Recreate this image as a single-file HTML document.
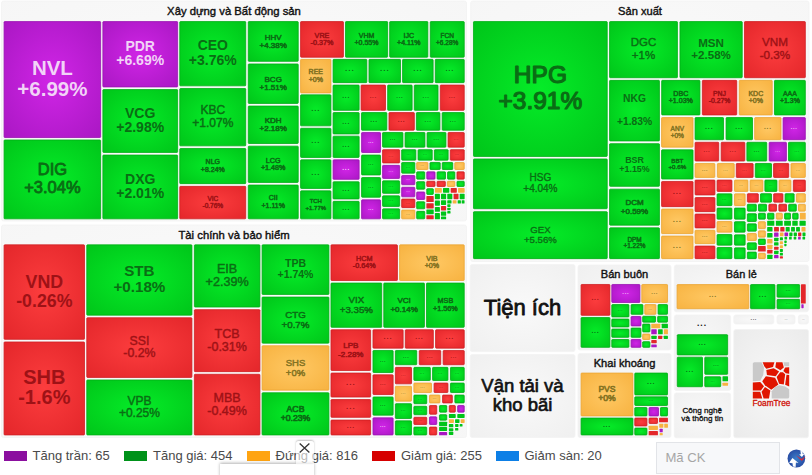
<!DOCTYPE html>
<html><head><meta charset="utf-8"><title>Treemap</title>
<style>
html,body{margin:0;padding:0;background:#fff;}
body{width:812px;height:475px;position:relative;overflow:hidden;font-family:"Liberation Sans",sans-serif;}
.lg{position:absolute;top:450.7px;height:10.5px;width:23.2px;}
.lt{position:absolute;top:447.8px;font-size:13px;line-height:16px;color:#4a4a4a;white-space:nowrap;}
.inp{position:absolute;left:655.8px;top:441.8px;width:122px;height:30px;border:1px solid #e2e4e8;background:#f7f8fa;box-sizing:content-box;}
.inp span{position:absolute;left:8.6px;top:6.8px;font-size:13.1px;color:#a6a6a6;line-height:16px;}
.pop{position:absolute;left:220.3px;top:463.6px;width:93.8px;height:14px;background:#fff;box-shadow:0 -1px 3px rgba(0,0,0,0.3);}
.cls{position:absolute;left:296px;top:441px;width:18px;height:22.6px;background:rgba(255,255,255,0.62);border-radius:3px 3px 0 0;box-shadow:0 -1px 2px rgba(0,0,0,0.25);}
</style></head><body>
<svg width="812" height="441" viewBox="0 0 812 441" style="position:absolute;left:0;top:0" font-family="Liberation Sans, sans-serif" stroke-linejoin="round">
<defs>
<radialGradient id="g" cx="50%" cy="50%" r="72%"><stop offset="0" stop-color="#05ec28"/><stop offset="1" stop-color="#00c419"/></radialGradient>
<radialGradient id="p" cx="50%" cy="50%" r="72%"><stop offset="0" stop-color="#d025e6"/><stop offset="1" stop-color="#a917c3"/></radialGradient>
<radialGradient id="r" cx="50%" cy="50%" r="72%"><stop offset="0" stop-color="#fc3d3e"/><stop offset="1" stop-color="#e3262a"/></radialGradient>
<radialGradient id="o" cx="50%" cy="50%" r="72%"><stop offset="0" stop-color="#ffc863"/><stop offset="1" stop-color="#f7b240"/></radialGradient>
<radialGradient id="pn" cx="50%" cy="50%" r="75%"><stop offset="0" stop-color="#f9f9f9"/><stop offset="1" stop-color="#efefef"/></radialGradient>
<radialGradient id="pb" cx="50%" cy="50%" r="75%"><stop offset="0" stop-color="#fbfbfb"/><stop offset="1" stop-color="#f6f6f6"/></radialGradient>
<radialGradient id="pf" cx="50%" cy="50%" r="75%"><stop offset="0" stop-color="#f7f7f7"/><stop offset="1" stop-color="#eaeaea"/></radialGradient>
</defs>
<rect x="1.5" y="1" width="465.0" height="220.0" rx="2" fill="url(#pb)" stroke="#f3f3f3" stroke-width="0.8"/>
<text x="234" y="15.1" font-size="11.3" text-anchor="middle" fill="#111" stroke="#111" stroke-width="0.41">Xây dựng và Bất động sản</text>
<rect x="470.7" y="1" width="338.3" height="260.5" rx="2" fill="url(#pb)" stroke="#f3f3f3" stroke-width="0.8"/>
<text x="640" y="15.0" font-size="11.1" text-anchor="middle" fill="#111" stroke="#111" stroke-width="0.40">Sản xuất</text>
<rect x="1.5" y="225" width="465.0" height="212.5" rx="2" fill="url(#pb)" stroke="#f3f3f3" stroke-width="0.8"/>
<text x="234" y="238.6" font-size="11.3" text-anchor="middle" fill="#111" stroke="#111" stroke-width="0.41">Tài chính và bảo hiểm</text>
<rect x="470.2" y="264.5" width="104.8" height="87.1" rx="2" fill="url(#pn)" stroke="#f3f3f3" stroke-width="0.8"/>
<rect x="470.2" y="354.5" width="104.8" height="83.0" rx="2" fill="url(#pn)" stroke="#f3f3f3" stroke-width="0.8"/>
<rect x="578" y="265" width="93.0" height="85.0" rx="2" fill="url(#pn)" stroke="#f3f3f3" stroke-width="0.8"/>
<text x="624.5" y="277.8" font-size="11.1" text-anchor="middle" fill="#111" stroke="#111" stroke-width="0.40">Bán buôn</text>
<rect x="578" y="353.5" width="93.0" height="84.0" rx="2" fill="url(#pn)" stroke="#f3f3f3" stroke-width="0.8"/>
<text x="624.5" y="366.8" font-size="11.1" text-anchor="middle" fill="#111" stroke="#111" stroke-width="0.40">Khai khoáng</text>
<rect x="674.3" y="265" width="134.1" height="46.8" rx="2" fill="url(#pn)" stroke="#f3f3f3" stroke-width="0.8"/>
<text x="741.3" y="277.7" font-size="10.9" text-anchor="middle" fill="#111" stroke="#111" stroke-width="0.39">Bán lẻ</text>
<rect x="674.3" y="315" width="56.3" height="75.4" rx="2" fill="url(#pn)" stroke="#f3f3f3" stroke-width="0.8"/>
<rect x="674.3" y="393" width="56.3" height="44.8" rx="2" fill="url(#pn)" stroke="#f3f3f3" stroke-width="0.8"/>
<rect x="733.8" y="315" width="40.0" height="9.0" rx="2" fill="url(#pn)" stroke="#f3f3f3" stroke-width="0.8"/>
<rect x="777" y="315" width="18.0" height="9.0" rx="2" fill="url(#pn)" stroke="#f3f3f3" stroke-width="0.8"/>
<rect x="798.4" y="315" width="10.0" height="9.0" rx="2" fill="url(#pn)" stroke="#f3f3f3" stroke-width="0.8"/>
<rect x="733.8" y="329.5" width="74.7" height="108.3" rx="2" fill="url(#pf)" stroke="#f3f3f3" stroke-width="0.8"/>
<rect x="4.07" y="21.57" width="96.56" height="115.96" rx="0.7" fill="url(#p)" stroke="#9a13b3" stroke-width="0.8"/>
<text x="52.4" y="74.5" font-size="20.5" font-weight="bold" text-anchor="middle" fill="#f2d3f7">NVL</text>
<text x="52.4" y="95.8" font-size="20.5" font-weight="bold" text-anchor="middle" fill="#f2d3f7">+6.99%</text>
<rect x="4.07" y="139.97" width="96.56" height="78.86" rx="0.7" fill="url(#g)" stroke="#00ae15" stroke-width="0.8"/>
<text x="52.4" y="175.4" font-size="16.5" text-anchor="middle" fill="#0a6d14" stroke="#0a6d14" stroke-width="0.83">DIG</text>
<text x="52.4" y="192.5" font-size="16.5" text-anchor="middle" fill="#0a6d14" stroke="#0a6d14" stroke-width="0.83">+3.04%</text>
<rect x="102.87" y="21.57" width="74.76" height="65.36" rx="0.7" fill="url(#p)" stroke="#9a13b3" stroke-width="0.8"/>
<text x="140.2" y="50.8" font-size="14" font-weight="bold" text-anchor="middle" fill="#f2d3f7">PDR</text>
<text x="140.2" y="65.4" font-size="14" font-weight="bold" text-anchor="middle" fill="#f2d3f7">+6.69%</text>
<rect x="102.87" y="89.57" width="74.76" height="62.86" rx="0.7" fill="url(#g)" stroke="#00ae15" stroke-width="0.8"/>
<text x="140.2" y="117.6" font-size="14" font-weight="bold" text-anchor="middle" fill="#0a6d14">VCG</text>
<text x="140.2" y="132.1" font-size="14" font-weight="bold" text-anchor="middle" fill="#0a6d14">+2.98%</text>
<rect x="102.87" y="155.07" width="74.76" height="63.76" rx="0.7" fill="url(#g)" stroke="#00ae15" stroke-width="0.8"/>
<text x="140.2" y="183.5" font-size="14" font-weight="bold" text-anchor="middle" fill="#0a6d14">DXG</text>
<text x="140.2" y="198.1" font-size="14" font-weight="bold" text-anchor="middle" fill="#0a6d14">+2.01%</text>
<rect x="179.77" y="21.57" width="65.96" height="64.26" rx="0.7" fill="url(#g)" stroke="#00ae15" stroke-width="0.8"/>
<text x="212.8" y="50.3" font-size="14" font-weight="bold" text-anchor="middle" fill="#0a6d14">CEO</text>
<text x="212.8" y="64.8" font-size="14" font-weight="bold" text-anchor="middle" fill="#0a6d14">+3.76%</text>
<rect x="179.77" y="88.47" width="65.96" height="57.36" rx="0.7" fill="url(#g)" stroke="#00ae15" stroke-width="0.8"/>
<text x="212.8" y="114.2" font-size="12" text-anchor="middle" fill="#0a6d14" stroke="#0a6d14" stroke-width="0.42">KBC</text>
<text x="212.8" y="126.7" font-size="12" text-anchor="middle" fill="#0a6d14" stroke="#0a6d14" stroke-width="0.42">+1.07%</text>
<rect x="179.77" y="148.47" width="65.96" height="35.16" rx="0.7" fill="url(#g)" stroke="#00ae15" stroke-width="0.8"/>
<text x="212.8" y="164.3" font-size="7" text-anchor="middle" fill="#0a6d14" stroke="#0a6d14" stroke-width="0.53">NLG</text>
<text x="212.8" y="171.6" font-size="7" text-anchor="middle" fill="#0a6d14" stroke="#0a6d14" stroke-width="0.53">+8.24%</text>
<rect x="179.77" y="186.37" width="65.96" height="32.46" rx="0.7" fill="url(#r)" stroke="#cf1f23" stroke-width="0.8"/>
<text x="212.8" y="201.0" font-size="6.5" text-anchor="middle" fill="#9e1216" stroke="#9e1216" stroke-width="0.49">VIC</text>
<text x="212.8" y="207.8" font-size="6.5" text-anchor="middle" fill="#9e1216" stroke="#9e1216" stroke-width="0.49">-0.76%</text>
<rect x="248.27" y="21.57" width="49.96" height="39.76" rx="0.7" fill="url(#g)" stroke="#00ae15" stroke-width="0.8"/>
<text x="273.2" y="39.5" font-size="8" text-anchor="middle" fill="#0a6d14" stroke="#0a6d14" stroke-width="0.60">HHV</text>
<text x="273.2" y="47.8" font-size="8" text-anchor="middle" fill="#0a6d14" stroke="#0a6d14" stroke-width="0.60">+4.38%</text>
<rect x="248.27" y="63.97" width="49.96" height="39.46" rx="0.7" fill="url(#g)" stroke="#00ae15" stroke-width="0.8"/>
<text x="273.2" y="81.7" font-size="8" text-anchor="middle" fill="#0a6d14" stroke="#0a6d14" stroke-width="0.60">BCG</text>
<text x="273.2" y="90.1" font-size="8" text-anchor="middle" fill="#0a6d14" stroke="#0a6d14" stroke-width="0.60">+1.51%</text>
<rect x="248.27" y="106.07" width="49.96" height="37.46" rx="0.7" fill="url(#g)" stroke="#00ae15" stroke-width="0.8"/>
<text x="273.2" y="122.8" font-size="8" text-anchor="middle" fill="#0a6d14" stroke="#0a6d14" stroke-width="0.60">KDH</text>
<text x="273.2" y="131.2" font-size="8" text-anchor="middle" fill="#0a6d14" stroke="#0a6d14" stroke-width="0.60">+2.18%</text>
<rect x="248.27" y="146.17" width="49.96" height="36.26" rx="0.7" fill="url(#g)" stroke="#00ae15" stroke-width="0.8"/>
<text x="273.2" y="162.5" font-size="7.2" text-anchor="middle" fill="#0a6d14" stroke="#0a6d14" stroke-width="0.54">LCG</text>
<text x="273.2" y="170.0" font-size="7.2" text-anchor="middle" fill="#0a6d14" stroke="#0a6d14" stroke-width="0.54">+1.48%</text>
<rect x="248.27" y="185.07" width="49.96" height="33.76" rx="0.7" fill="url(#g)" stroke="#00ae15" stroke-width="0.8"/>
<text x="273.2" y="200.2" font-size="7" text-anchor="middle" fill="#0a6d14" stroke="#0a6d14" stroke-width="0.53">CII</text>
<text x="273.2" y="207.5" font-size="7" text-anchor="middle" fill="#0a6d14" stroke="#0a6d14" stroke-width="0.53">+1.11%</text>
<rect x="300.57" y="21.57" width="42.86" height="35.66" rx="0.7" fill="url(#r)" stroke="#cf1f23" stroke-width="0.8"/>
<text x="322.0" y="37.6" font-size="7.2" text-anchor="middle" fill="#9e1216" stroke="#9e1216" stroke-width="0.54">VRE</text>
<text x="322.0" y="45.1" font-size="7.2" text-anchor="middle" fill="#9e1216" stroke="#9e1216" stroke-width="0.54">-0.37%</text>
<rect x="345.47" y="21.57" width="42.16" height="35.66" rx="0.7" fill="url(#g)" stroke="#00ae15" stroke-width="0.8"/>
<text x="366.5" y="37.7" font-size="7" text-anchor="middle" fill="#0a6d14" stroke="#0a6d14" stroke-width="0.53">VHM</text>
<text x="366.5" y="45.0" font-size="7" text-anchor="middle" fill="#0a6d14" stroke="#0a6d14" stroke-width="0.53">+0.55%</text>
<rect x="389.67" y="21.57" width="38.16" height="35.66" rx="0.7" fill="url(#g)" stroke="#00ae15" stroke-width="0.8"/>
<text x="408.8" y="37.7" font-size="7" text-anchor="middle" fill="#0a6d14" stroke="#0a6d14" stroke-width="0.53">IJC</text>
<text x="408.8" y="45.0" font-size="7" text-anchor="middle" fill="#0a6d14" stroke="#0a6d14" stroke-width="0.53">+4.11%</text>
<rect x="430.27" y="21.57" width="33.96" height="35.66" rx="0.7" fill="url(#g)" stroke="#00ae15" stroke-width="0.8"/>
<text x="447.2" y="37.8" font-size="6.5" text-anchor="middle" fill="#0a6d14" stroke="#0a6d14" stroke-width="0.49">FCN</text>
<text x="447.2" y="44.6" font-size="6.5" text-anchor="middle" fill="#0a6d14" stroke="#0a6d14" stroke-width="0.49">+6.28%</text>
<rect x="300.57" y="59.37" width="30.36" height="33.56" rx="0.7" fill="url(#o)" stroke="#eba634" stroke-width="0.8"/>
<text x="315.8" y="74.4" font-size="7" text-anchor="middle" fill="#857322" stroke="#857322" stroke-width="0.53">REE</text>
<text x="315.8" y="81.7" font-size="7" text-anchor="middle" fill="#857322" stroke="#857322" stroke-width="0.53">+0%</text>
<rect x="300.57" y="94.87" width="30.36" height="30.96" rx="0.7" fill="url(#g)" stroke="#00ae15" stroke-width="0.8"/>
<text x="315.8" y="110.7" font-size="7.6" font-weight="bold" text-anchor="middle" fill="#0a6d14" letter-spacing="0.9">...</text>
<rect x="300.57" y="128.27" width="30.36" height="29.16" rx="0.7" fill="url(#g)" stroke="#00ae15" stroke-width="0.8"/>
<text x="315.8" y="143.2" font-size="7.6" font-weight="bold" text-anchor="middle" fill="#0a6d14" letter-spacing="0.9">...</text>
<rect x="300.57" y="159.87" width="30.36" height="28.56" rx="0.7" fill="url(#g)" stroke="#00ae15" stroke-width="0.8"/>
<text x="315.8" y="174.5" font-size="7.6" font-weight="bold" text-anchor="middle" fill="#0a6d14" letter-spacing="0.9">...</text>
<rect x="300.57" y="190.87" width="30.36" height="27.96" rx="0.7" fill="url(#g)" stroke="#00ae15" stroke-width="0.8"/>
<text x="315.8" y="203.4" font-size="6" text-anchor="middle" fill="#0a6d14" stroke="#0a6d14" stroke-width="0.45">TCH</text>
<text x="315.8" y="209.6" font-size="6" text-anchor="middle" fill="#0a6d14" stroke="#0a6d14" stroke-width="0.45">+1.77%</text>
<rect x="333.07" y="59.37" width="33.76" height="23.26" rx="0.7" fill="url(#g)" stroke="#00ae15" stroke-width="0.8"/>
<text x="349.9" y="71.4" font-size="8.0" font-weight="bold" text-anchor="middle" fill="#0a6d14" letter-spacing="1.0">...</text>
<rect x="368.97" y="59.37" width="31.56" height="23.26" rx="0.7" fill="url(#g)" stroke="#00ae15" stroke-width="0.8"/>
<text x="384.8" y="71.4" font-size="7.9" font-weight="bold" text-anchor="middle" fill="#0a6d14" letter-spacing="1.0">...</text>
<rect x="402.57" y="59.37" width="30.56" height="23.26" rx="0.7" fill="url(#g)" stroke="#00ae15" stroke-width="0.8"/>
<text x="417.9" y="71.4" font-size="7.7" font-weight="bold" text-anchor="middle" fill="#0a6d14" letter-spacing="0.9">...</text>
<rect x="435.27" y="59.37" width="28.96" height="23.26" rx="0.7" fill="url(#g)" stroke="#00ae15" stroke-width="0.8"/>
<text x="449.8" y="71.4" font-size="7.3" font-weight="bold" text-anchor="middle" fill="#0a6d14" letter-spacing="0.9">...</text>
<rect x="333.07" y="85.07" width="26.06" height="25.26" rx="0.7" fill="url(#g)" stroke="#00ae15" stroke-width="0.8"/>
<text x="346.1" y="98.0" font-size="6.5" font-weight="bold" text-anchor="middle" fill="#0a6d14" letter-spacing="0.8">...</text>
<rect x="333.07" y="112.57" width="26.06" height="21.36" rx="0.7" fill="url(#g)" stroke="#00ae15" stroke-width="0.8"/>
<text x="346.1" y="123.6" font-size="6.5" font-weight="bold" text-anchor="middle" fill="#0a6d14" letter-spacing="0.8">...</text>
<rect x="333.07" y="136.17" width="26.06" height="21.26" rx="0.7" fill="url(#g)" stroke="#00ae15" stroke-width="0.8"/>
<text x="346.1" y="147.1" font-size="6.5" font-weight="bold" text-anchor="middle" fill="#0a6d14" letter-spacing="0.8">...</text>
<rect x="333.07" y="159.87" width="26.06" height="19.46" rx="0.7" fill="url(#p)" stroke="#9a13b3" stroke-width="0.8"/>
<text x="346.1" y="169.9" font-size="6.5" font-weight="bold" text-anchor="middle" fill="#f2d3f7" letter-spacing="0.8">...</text>
<rect x="333.07" y="181.77" width="26.06" height="17.16" rx="0.7" fill="url(#g)" stroke="#00ae15" stroke-width="0.8"/>
<text x="346.1" y="190.7" font-size="6.5" font-weight="bold" text-anchor="middle" fill="#0a6d14" letter-spacing="0.8">...</text>
<rect x="333.07" y="201.37" width="26.06" height="17.46" rx="0.7" fill="url(#g)" stroke="#00ae15" stroke-width="0.8"/>
<text x="346.1" y="210.4" font-size="6.5" font-weight="bold" text-anchor="middle" fill="#0a6d14" letter-spacing="0.8">...</text>
<rect x="361.07" y="85.07" width="24.46" height="25.26" rx="0.7" fill="url(#r)" stroke="#cf1f23" stroke-width="0.8"/>
<text x="373.3" y="98.0" font-size="6.2" font-weight="bold" text-anchor="middle" fill="#9e1216" letter-spacing="0.7">...</text>
<rect x="387.67" y="85.07" width="24.46" height="25.26" rx="0.7" fill="url(#g)" stroke="#00ae15" stroke-width="0.8"/>
<text x="399.9" y="98.0" font-size="6.1" font-weight="bold" text-anchor="middle" fill="#0a6d14" letter-spacing="0.7">...</text>
<rect x="414.27" y="85.07" width="23.76" height="25.26" rx="0.7" fill="url(#g)" stroke="#00ae15" stroke-width="0.8"/>
<text x="426.1" y="98.0" font-size="6.0" font-weight="bold" text-anchor="middle" fill="#0a6d14" letter-spacing="0.7">...</text>
<rect x="440.27" y="85.07" width="23.96" height="25.26" rx="0.7" fill="url(#r)" stroke="#cf1f23" stroke-width="0.8"/>
<text x="452.2" y="98.0" font-size="6.0" font-weight="bold" text-anchor="middle" fill="#9e1216" letter-spacing="0.7">...</text>
<rect x="361.47" y="112.57" width="25.36" height="17.66" rx="0.7" fill="url(#g)" stroke="#00ae15" stroke-width="0.8"/>
<text x="374.1" y="121.7" font-size="6.4" font-weight="bold" text-anchor="middle" fill="#0a6d14" letter-spacing="0.8">...</text>
<rect x="388.97" y="112.57" width="25.36" height="17.66" rx="0.7" fill="url(#r)" stroke="#cf1f23" stroke-width="0.8"/>
<text x="401.6" y="121.7" font-size="6.4" font-weight="bold" text-anchor="middle" fill="#9e1216" letter-spacing="0.8">...</text>
<rect x="416.37" y="112.57" width="23.56" height="17.66" rx="0.7" fill="url(#g)" stroke="#00ae15" stroke-width="0.8"/>
<text x="428.1" y="121.7" font-size="5.9" font-weight="bold" text-anchor="middle" fill="#0a6d14" letter-spacing="0.7">...</text>
<rect x="442.17" y="112.57" width="22.06" height="17.66" rx="0.7" fill="url(#g)" stroke="#00ae15" stroke-width="0.8"/>
<text x="453.2" y="121.7" font-size="5.5" font-weight="bold" text-anchor="middle" fill="#0a6d14" letter-spacing="0.7">...</text>
<rect x="361.57" y="132.47" width="18.96" height="20.06" rx="0.7" fill="url(#p)" stroke="#9a13b3" stroke-width="0.8"/>
<text x="371.1" y="142.7" font-size="4.8" font-weight="bold" text-anchor="middle" fill="#f2d3f7" letter-spacing="0.6">...</text>
<rect x="361.57" y="155.07" width="18.96" height="19.86" rx="0.7" fill="url(#g)" stroke="#00ae15" stroke-width="0.8"/>
<text x="371.1" y="165.2" font-size="4.8" font-weight="bold" text-anchor="middle" fill="#0a6d14" letter-spacing="0.6">...</text>
<rect x="361.57" y="177.57" width="18.96" height="19.66" rx="0.7" fill="url(#g)" stroke="#00ae15" stroke-width="0.8"/>
<text x="371.1" y="187.6" font-size="4.8" font-weight="bold" text-anchor="middle" fill="#0a6d14" letter-spacing="0.6">...</text>
<rect x="361.57" y="199.87" width="18.96" height="18.96" rx="0.7" fill="url(#p)" stroke="#9a13b3" stroke-width="0.8"/>
<text x="371.1" y="209.6" font-size="4.8" font-weight="bold" text-anchor="middle" fill="#f2d3f7" letter-spacing="0.6">...</text>
<rect x="382.57" y="132.47" width="20.36" height="14.66" rx="0.7" fill="url(#g)" stroke="#00ae15" stroke-width="0.8"/>
<text x="392.8" y="140.1" font-size="5.1" font-weight="bold" text-anchor="middle" fill="#0a6d14" letter-spacing="0.6">...</text>
<rect x="405.07" y="132.47" width="19.86" height="14.66" rx="0.7" fill="url(#g)" stroke="#00ae15" stroke-width="0.8"/>
<text x="415.0" y="140.1" font-size="5.0" font-weight="bold" text-anchor="middle" fill="#0a6d14" letter-spacing="0.6">...</text>
<rect x="427.07" y="132.47" width="18.86" height="14.66" rx="0.7" fill="url(#g)" stroke="#00ae15" stroke-width="0.8"/>
<text x="436.5" y="140.0" font-size="4.8" font-weight="bold" text-anchor="middle" fill="#0a6d14" letter-spacing="0.6">...</text>
<rect x="448.07" y="132.47" width="16.16" height="14.66" rx="0.7" fill="url(#r)" stroke="#cf1f23" stroke-width="0.8"/>
<text x="456.1" y="140.0" font-size="4.1" font-weight="bold" text-anchor="middle" fill="#9e1216" letter-spacing="0.5">...</text>
<rect x="382.57" y="149.67" width="17.06" height="13.26" rx="0.7" fill="url(#r)" stroke="#cf1f23" stroke-width="0.8"/>
<text x="391.1" y="156.5" font-size="4.3" font-weight="bold" text-anchor="middle" fill="#9e1216" letter-spacing="0.5">...</text>
<rect x="382.57" y="165.37" width="17.06" height="13.06" rx="0.7" fill="url(#p)" stroke="#9a13b3" stroke-width="0.8"/>
<text x="391.1" y="172.1" font-size="4.3" font-weight="bold" text-anchor="middle" fill="#f2d3f7" letter-spacing="0.5">...</text>
<rect x="382.57" y="180.87" width="17.06" height="12.46" rx="0.7" fill="url(#g)" stroke="#00ae15" stroke-width="0.8"/>
<text x="391.1" y="187.3" font-size="4.3" font-weight="bold" text-anchor="middle" fill="#0a6d14" letter-spacing="0.5">...</text>
<rect x="382.57" y="195.87" width="17.06" height="10.56" rx="0.7" fill="url(#g)" stroke="#00ae15" stroke-width="0.8"/>
<text x="391.1" y="201.4" font-size="4.3" font-weight="bold" text-anchor="middle" fill="#0a6d14" letter-spacing="0.5">...</text>
<rect x="382.57" y="208.87" width="17.06" height="9.96" rx="0.7" fill="url(#g)" stroke="#00ae15" stroke-width="0.8"/>
<text x="391.1" y="214.1" font-size="4.3" font-weight="bold" text-anchor="middle" fill="#0a6d14" letter-spacing="0.5">...</text>
<rect x="401.67" y="149.67" width="14.16" height="10.46" rx="0.7" fill="url(#g)" stroke="#00ae15" stroke-width="0.8"/>
<text x="408.8" y="155.1" font-size="3.6" font-weight="bold" text-anchor="middle" fill="#0a6d14" letter-spacing="0.4">...</text>
<rect x="418.07" y="149.67" width="14.16" height="10.46" rx="0.7" fill="url(#g)" stroke="#00ae15" stroke-width="0.8"/>
<text x="425.1" y="155.1" font-size="3.6" font-weight="bold" text-anchor="middle" fill="#0a6d14" letter-spacing="0.4">...</text>
<rect x="434.37" y="149.67" width="13.76" height="10.46" rx="0.7" fill="url(#g)" stroke="#00ae15" stroke-width="0.8"/>
<text x="441.2" y="155.1" font-size="3.5" font-weight="bold" text-anchor="middle" fill="#0a6d14" letter-spacing="0.4">...</text>
<rect x="450.27" y="149.67" width="13.96" height="10.46" rx="0.7" fill="url(#r)" stroke="#cf1f23" stroke-width="0.8"/>
<text x="457.2" y="155.1" font-size="3.5" font-weight="bold" text-anchor="middle" fill="#9e1216" letter-spacing="0.4">...</text>
<rect x="401.67" y="162.47" width="13.16" height="10.66" rx="0.7" fill="url(#g)" stroke="#00ae15" stroke-width="0.8"/>
<text x="408.2" y="168.0" font-size="3.3" font-weight="bold" text-anchor="middle" fill="#0a6d14" letter-spacing="0.4">...</text>
<rect x="401.67" y="175.47" width="13.16" height="9.26" rx="0.7" fill="url(#p)" stroke="#9a13b3" stroke-width="0.8"/>
<text x="408.2" y="180.3" font-size="3.3" font-weight="bold" text-anchor="middle" fill="#f2d3f7" letter-spacing="0.4">...</text>
<rect x="401.67" y="187.27" width="13.16" height="9.56" rx="0.7" fill="url(#p)" stroke="#9a13b3" stroke-width="0.8"/>
<text x="408.2" y="192.2" font-size="3.3" font-weight="bold" text-anchor="middle" fill="#f2d3f7" letter-spacing="0.4">...</text>
<rect x="401.67" y="199.07" width="13.16" height="8.56" rx="0.7" fill="url(#r)" stroke="#cf1f23" stroke-width="0.8"/>
<text x="408.2" y="203.5" font-size="3.3" font-weight="bold" text-anchor="middle" fill="#9e1216" letter-spacing="0.4">...</text>
<rect x="401.67" y="210.07" width="13.16" height="8.76" rx="0.7" fill="url(#o)" stroke="#eba634" stroke-width="0.8"/>
<text x="408.2" y="214.6" font-size="3.3" font-weight="bold" text-anchor="middle" fill="#857322" letter-spacing="0.4">...</text>
<rect x="416.67" y="162.47" width="11.26" height="7.06" rx="0.7" fill="url(#o)" stroke="#eba634" stroke-width="0.8"/>
<text x="422.3" y="166.2" font-size="3.0" font-weight="bold" text-anchor="middle" fill="#857322" letter-spacing="0.4">...</text>
<rect x="429.97" y="162.47" width="10.26" height="7.06" rx="0.7" fill="url(#g)" stroke="#00ae15" stroke-width="0.8"/>
<rect x="442.27" y="162.47" width="10.46" height="7.06" rx="0.7" fill="url(#g)" stroke="#00ae15" stroke-width="0.8"/>
<rect x="454.77" y="162.47" width="9.46" height="7.06" rx="0.7" fill="url(#o)" stroke="#eba634" stroke-width="0.8"/>
<rect x="416.67" y="171.87" width="8.06" height="7.26" rx="0.7" fill="url(#g)" stroke="#00ae15" stroke-width="0.8"/>
<rect x="416.67" y="181.67" width="8.06" height="7.56" rx="0.7" fill="url(#g)" stroke="#00ae15" stroke-width="0.8"/>
<rect x="416.67" y="191.97" width="8.06" height="7.46" rx="0.7" fill="url(#p)" stroke="#9a13b3" stroke-width="0.8"/>
<rect x="416.67" y="201.77" width="8.06" height="7.06" rx="0.7" fill="url(#g)" stroke="#00ae15" stroke-width="0.8"/>
<rect x="416.67" y="211.37" width="8.06" height="7.46" rx="0.7" fill="url(#g)" stroke="#00ae15" stroke-width="0.8"/>
<rect x="426.77" y="171.87" width="8.26" height="7.26" rx="0.7" fill="url(#p)" stroke="#9a13b3" stroke-width="0.8"/>
<rect x="437.07" y="171.87" width="8.46" height="7.26" rx="0.7" fill="url(#g)" stroke="#00ae15" stroke-width="0.8"/>
<rect x="447.57" y="171.87" width="7.26" height="7.26" rx="0.7" fill="url(#g)" stroke="#00ae15" stroke-width="0.8"/>
<rect x="456.97" y="171.87" width="7.26" height="7.26" rx="0.7" fill="url(#r)" stroke="#cf1f23" stroke-width="0.8"/>
<rect x="426.77" y="181.27" width="8.26" height="5.26" rx="0.7" fill="url(#r)" stroke="#cf1f23" stroke-width="0.8"/>
<rect x="437.07" y="181.27" width="8.26" height="5.26" rx="0.7" fill="url(#r)" stroke="#cf1f23" stroke-width="0.8"/>
<rect x="447.37" y="181.27" width="7.46" height="5.26" rx="0.7" fill="url(#o)" stroke="#eba634" stroke-width="0.8"/>
<rect x="456.97" y="181.27" width="7.26" height="5.26" rx="0.7" fill="url(#g)" stroke="#00ae15" stroke-width="0.8"/>
<rect x="426.77" y="188.67" width="6.56" height="5.76" rx="0.7" fill="url(#g)" stroke="#00ae15" stroke-width="0.8"/>
<rect x="426.37" y="196.07" width="7.36" height="5.96" rx="0.6" fill="#e3262a"/>
<rect x="426.37" y="203.17" width="7.36" height="5.26" rx="0.6" fill="#e3262a"/>
<rect x="426.37" y="209.47" width="7.36" height="4.66" rx="0.6" fill="#00c419"/>
<rect x="426.37" y="215.17" width="7.36" height="4.06" rx="0.6" fill="#e3262a"/>
<rect x="434.87" y="188.07" width="6.96" height="4.56" rx="0.6" fill="#f7b240"/>
<rect x="442.97" y="188.07" width="6.36" height="4.56" rx="0.6" fill="#00c419"/>
<rect x="450.67" y="188.07" width="6.16" height="4.56" rx="0.6" fill="#e3262a"/>
<rect x="458.07" y="188.07" width="6.56" height="4.56" rx="0.6" fill="#f7b240"/>
<rect x="434.87" y="193.87" width="5.06" height="5.26" rx="0.6" fill="#00c419"/>
<rect x="434.87" y="200.47" width="5.06" height="5.16" rx="0.6" fill="#00c419"/>
<rect x="434.87" y="206.97" width="5.06" height="4.86" rx="0.6" fill="#00c419"/>
<rect x="434.87" y="212.97" width="5.06" height="6.26" rx="0.6" fill="#00c419"/>
<rect x="440.97" y="193.87" width="5.16" height="5.26" rx="0.6" fill="#00c419"/>
<rect x="447.27" y="193.87" width="5.06" height="5.26" rx="0.6" fill="#00c419"/>
<rect x="453.57" y="193.87" width="4.96" height="5.26" rx="0.6" fill="#e3262a"/>
<rect x="459.67" y="193.87" width="4.96" height="5.26" rx="0.6" fill="#00c419"/>
<rect x="440.97" y="200.27" width="5.16" height="4.66" rx="0.6" fill="#00c419"/>
<rect x="440.97" y="206.07" width="5.16" height="4.36" rx="0.6" fill="#e3262a"/>
<rect x="440.97" y="211.57" width="5.16" height="4.16" rx="0.6" fill="#00c419"/>
<rect x="440.97" y="216.47" width="5.16" height="2.76" rx="0.6" fill="#00c419"/>
<rect x="447.27" y="200.17" width="4.26" height="3.36" rx="0.6" fill="#00c419"/>
<rect x="452.67" y="200.17" width="3.86" height="3.36" rx="0.6" fill="#f7b240"/>
<rect x="457.67" y="200.17" width="3.26" height="3.36" rx="0.6" fill="#00c419"/>
<rect x="461.67" y="200.17" width="2.86" height="3.36" rx="0.6" fill="#00c419"/>
<rect x="447.27" y="204.27" width="3.26" height="2.66" rx="0.6" fill="#00c419"/>
<rect x="447.27" y="207.67" width="3.26" height="2.66" rx="0.6" fill="#00c419"/>
<rect x="447.27" y="211.07" width="3.26" height="2.46" rx="0.6" fill="#00c419"/>
<rect x="473.47" y="21.57" width="133.76" height="134.86" rx="0.7" fill="url(#g)" stroke="#00ae15" stroke-width="0.8"/>
<text x="540.4" y="83.0" font-size="24.5" text-anchor="middle" fill="#0a6d14" stroke="#0a6d14" stroke-width="1.23">HPG</text>
<text x="540.4" y="108.5" font-size="24.5" text-anchor="middle" fill="#0a6d14" stroke="#0a6d14" stroke-width="1.23">+3.91%</text>
<rect x="473.47" y="158.97" width="133.76" height="49.76" rx="0.7" fill="url(#g)" stroke="#00ae15" stroke-width="0.8"/>
<text x="540.4" y="181.4" font-size="10" text-anchor="middle" fill="#0a6d14" stroke="#0a6d14" stroke-width="0.35">HSG</text>
<text x="540.4" y="191.8" font-size="10" text-anchor="middle" fill="#0a6d14" stroke="#0a6d14" stroke-width="0.35">+4.04%</text>
<rect x="473.47" y="211.67" width="133.76" height="46.96" rx="0.7" fill="url(#g)" stroke="#00ae15" stroke-width="0.8"/>
<text x="540.4" y="232.8" font-size="9.6" text-anchor="middle" fill="#0a6d14" stroke="#0a6d14" stroke-width="0.34">GEX</text>
<text x="540.4" y="242.8" font-size="9.6" text-anchor="middle" fill="#0a6d14" stroke="#0a6d14" stroke-width="0.34">+5.56%</text>
<rect x="609.57" y="21.57" width="67.86" height="56.16" rx="0.7" fill="url(#g)" stroke="#00ae15" stroke-width="0.8"/>
<text x="643.5" y="46.4" font-size="11.5" text-anchor="middle" fill="#0a6d14" stroke="#0a6d14" stroke-width="0.40">DGC</text>
<text x="643.5" y="59.3" font-size="11.5" text-anchor="middle" fill="#0a6d14" stroke="#0a6d14" stroke-width="0.40">+1%</text>
<rect x="679.97" y="21.57" width="62.26" height="56.16" rx="0.7" fill="url(#g)" stroke="#00ae15" stroke-width="0.8"/>
<text x="711.1" y="46.6" font-size="11.6" font-weight="bold" text-anchor="middle" fill="#0a6d14">MSN</text>
<text x="711.1" y="59.1" font-size="11.6" font-weight="bold" text-anchor="middle" fill="#0a6d14">+2.58%</text>
<rect x="744.47" y="21.57" width="60.86" height="56.16" rx="0.7" fill="url(#r)" stroke="#cf1f23" stroke-width="0.8"/>
<text x="774.9" y="46.4" font-size="11.7" text-anchor="middle" fill="#9e1216" stroke="#9e1216" stroke-width="0.41">VNM</text>
<text x="774.9" y="59.3" font-size="11.7" text-anchor="middle" fill="#9e1216" stroke="#9e1216" stroke-width="0.41">-0.3%</text>
<rect x="609.57" y="80.37" width="49.86" height="60.56" rx="0.7" fill="url(#g)" stroke="#00ae15" stroke-width="0.8"/>
<text x="634.5" y="102.3" font-size="10.3" font-weight="bold" text-anchor="middle" fill="#0a6d14">NKG</text>
<text x="634.5" y="124.7" font-size="10.3" font-weight="bold" text-anchor="middle" fill="#0a6d14">+1.83%</text>
<rect x="609.57" y="143.67" width="49.86" height="42.66" rx="0.7" fill="url(#g)" stroke="#00ae15" stroke-width="0.8"/>
<text x="634.5" y="162.8" font-size="8.9" font-weight="bold" text-anchor="middle" fill="#0a6d14">BSR</text>
<text x="634.5" y="172.1" font-size="8.9" font-weight="bold" text-anchor="middle" fill="#0a6d14">+1.15%</text>
<rect x="609.57" y="189.17" width="49.86" height="35.96" rx="0.7" fill="url(#g)" stroke="#00ae15" stroke-width="0.8"/>
<text x="634.5" y="205.2" font-size="8" text-anchor="middle" fill="#0a6d14" stroke="#0a6d14" stroke-width="0.60">DCM</text>
<text x="634.5" y="213.5" font-size="8" text-anchor="middle" fill="#0a6d14" stroke="#0a6d14" stroke-width="0.60">+0.59%</text>
<rect x="609.57" y="227.87" width="49.86" height="30.76" rx="0.7" fill="url(#g)" stroke="#00ae15" stroke-width="0.8"/>
<text x="634.5" y="241.7" font-size="6.4" text-anchor="middle" fill="#0a6d14" stroke="#0a6d14" stroke-width="0.48">DPM</text>
<text x="634.5" y="248.3" font-size="6.4" text-anchor="middle" fill="#0a6d14" stroke="#0a6d14" stroke-width="0.48">+1.22%</text>
<rect x="661.67" y="80.37" width="38.26" height="34.56" rx="0.7" fill="url(#g)" stroke="#00ae15" stroke-width="0.8"/>
<text x="680.8" y="95.9" font-size="7.1" text-anchor="middle" fill="#0a6d14" stroke="#0a6d14" stroke-width="0.53">DBC</text>
<text x="680.8" y="103.3" font-size="7.1" text-anchor="middle" fill="#0a6d14" stroke="#0a6d14" stroke-width="0.53">+1.03%</text>
<rect x="702.37" y="80.37" width="34.36" height="34.56" rx="0.7" fill="url(#r)" stroke="#cf1f23" stroke-width="0.8"/>
<text x="719.5" y="96.0" font-size="6.8" text-anchor="middle" fill="#9e1216" stroke="#9e1216" stroke-width="0.51">PNJ</text>
<text x="719.5" y="103.1" font-size="6.8" text-anchor="middle" fill="#9e1216" stroke="#9e1216" stroke-width="0.51">-0.27%</text>
<rect x="739.27" y="80.37" width="32.96" height="34.56" rx="0.7" fill="url(#o)" stroke="#eba634" stroke-width="0.8"/>
<text x="755.8" y="95.9" font-size="7" text-anchor="middle" fill="#857322" stroke="#857322" stroke-width="0.53">KDC</text>
<text x="755.8" y="103.2" font-size="7" text-anchor="middle" fill="#857322" stroke="#857322" stroke-width="0.53">+0%</text>
<rect x="774.47" y="80.37" width="30.86" height="34.56" rx="0.7" fill="url(#g)" stroke="#00ae15" stroke-width="0.8"/>
<text x="789.9" y="95.9" font-size="7" text-anchor="middle" fill="#0a6d14" stroke="#0a6d14" stroke-width="0.53">AAA</text>
<text x="789.9" y="103.2" font-size="7" text-anchor="middle" fill="#0a6d14" stroke="#0a6d14" stroke-width="0.53">+1.3%</text>
<rect x="661.57" y="117.57" width="31.46" height="29.56" rx="0.7" fill="url(#o)" stroke="#eba634" stroke-width="0.8"/>
<text x="677.3" y="130.8" font-size="6.5" text-anchor="middle" fill="#857322" stroke="#857322" stroke-width="0.49">ANV</text>
<text x="677.3" y="137.5" font-size="6.5" text-anchor="middle" fill="#857322" stroke="#857322" stroke-width="0.49">+0%</text>
<rect x="661.57" y="149.87" width="31.46" height="29.16" rx="0.7" fill="url(#g)" stroke="#00ae15" stroke-width="0.8"/>
<text x="677.3" y="162.9" font-size="6.2" text-anchor="middle" fill="#0a6d14" stroke="#0a6d14" stroke-width="0.46">BBT</text>
<text x="677.3" y="169.4" font-size="6.2" text-anchor="middle" fill="#0a6d14" stroke="#0a6d14" stroke-width="0.46">+0.6%</text>
<rect x="661.57" y="181.47" width="31.46" height="25.16" rx="0.7" fill="url(#r)" stroke="#cf1f23" stroke-width="0.8"/>
<text x="677.3" y="194.4" font-size="7.9" font-weight="bold" text-anchor="middle" fill="#9e1216" letter-spacing="0.9">...</text>
<rect x="661.57" y="209.07" width="31.46" height="24.56" rx="0.7" fill="url(#o)" stroke="#eba634" stroke-width="0.8"/>
<text x="677.3" y="221.7" font-size="7.9" font-weight="bold" text-anchor="middle" fill="#857322" letter-spacing="0.9">...</text>
<rect x="661.57" y="236.07" width="31.46" height="22.56" rx="0.7" fill="url(#o)" stroke="#eba634" stroke-width="0.8"/>
<text x="677.3" y="247.7" font-size="7.9" font-weight="bold" text-anchor="middle" fill="#857322" letter-spacing="0.9">...</text>
<rect x="695.07" y="117.57" width="28.46" height="22.16" rx="0.7" fill="url(#g)" stroke="#00ae15" stroke-width="0.8"/>
<text x="709.3" y="129.0" font-size="7.2" font-weight="bold" text-anchor="middle" fill="#0a6d14" letter-spacing="0.9">...</text>
<rect x="726.07" y="117.57" width="26.46" height="22.16" rx="0.7" fill="url(#g)" stroke="#00ae15" stroke-width="0.8"/>
<text x="739.3" y="129.0" font-size="6.7" font-weight="bold" text-anchor="middle" fill="#0a6d14" letter-spacing="0.8">...</text>
<rect x="754.67" y="117.57" width="26.36" height="22.16" rx="0.7" fill="url(#o)" stroke="#eba634" stroke-width="0.8"/>
<text x="767.9" y="129.0" font-size="6.6" font-weight="bold" text-anchor="middle" fill="#857322" letter-spacing="0.8">...</text>
<rect x="783.07" y="117.57" width="22.26" height="22.16" rx="0.7" fill="url(#p)" stroke="#9a13b3" stroke-width="0.8"/>
<text x="794.2" y="128.9" font-size="5.6" font-weight="bold" text-anchor="middle" fill="#f2d3f7" letter-spacing="0.7">...</text>
<rect x="695.07" y="142.27" width="23.66" height="18.76" rx="0.7" fill="url(#r)" stroke="#cf1f23" stroke-width="0.8"/>
<text x="706.9" y="151.9" font-size="5.9" font-weight="bold" text-anchor="middle" fill="#9e1216" letter-spacing="0.7">...</text>
<rect x="721.17" y="142.27" width="23.66" height="18.76" rx="0.7" fill="url(#r)" stroke="#cf1f23" stroke-width="0.8"/>
<text x="733.0" y="151.9" font-size="5.9" font-weight="bold" text-anchor="middle" fill="#9e1216" letter-spacing="0.7">...</text>
<rect x="746.87" y="142.27" width="19.86" height="18.76" rx="0.7" fill="url(#g)" stroke="#00ae15" stroke-width="0.8"/>
<text x="756.8" y="151.9" font-size="5.0" font-weight="bold" text-anchor="middle" fill="#0a6d14" letter-spacing="0.6">...</text>
<rect x="769.17" y="142.27" width="17.26" height="18.76" rx="0.7" fill="url(#p)" stroke="#9a13b3" stroke-width="0.8"/>
<text x="777.8" y="151.9" font-size="4.3" font-weight="bold" text-anchor="middle" fill="#f2d3f7" letter-spacing="0.5">...</text>
<rect x="788.47" y="142.27" width="16.86" height="18.76" rx="0.7" fill="url(#g)" stroke="#00ae15" stroke-width="0.8"/>
<text x="796.9" y="151.9" font-size="4.2" font-weight="bold" text-anchor="middle" fill="#0a6d14" letter-spacing="0.5">...</text>
<rect x="695.07" y="163.47" width="19.76" height="13.96" rx="0.7" fill="url(#o)" stroke="#eba634" stroke-width="0.8"/>
<text x="705.0" y="170.7" font-size="5.0" font-weight="bold" text-anchor="middle" fill="#857322" letter-spacing="0.6">...</text>
<rect x="717.37" y="163.47" width="16.86" height="13.96" rx="0.7" fill="url(#o)" stroke="#eba634" stroke-width="0.8"/>
<text x="725.8" y="170.7" font-size="4.2" font-weight="bold" text-anchor="middle" fill="#857322" letter-spacing="0.5">...</text>
<rect x="736.27" y="163.47" width="16.86" height="13.96" rx="0.7" fill="url(#r)" stroke="#cf1f23" stroke-width="0.8"/>
<text x="744.7" y="170.7" font-size="4.2" font-weight="bold" text-anchor="middle" fill="#9e1216" letter-spacing="0.5">...</text>
<rect x="755.27" y="163.47" width="16.26" height="13.96" rx="0.7" fill="url(#g)" stroke="#00ae15" stroke-width="0.8"/>
<text x="763.4" y="170.7" font-size="4.1" font-weight="bold" text-anchor="middle" fill="#0a6d14" letter-spacing="0.5">...</text>
<rect x="773.57" y="163.47" width="15.16" height="13.96" rx="0.7" fill="url(#r)" stroke="#cf1f23" stroke-width="0.8"/>
<text x="781.1" y="170.6" font-size="3.8" font-weight="bold" text-anchor="middle" fill="#9e1216" letter-spacing="0.5">...</text>
<rect x="790.97" y="163.47" width="14.36" height="13.96" rx="0.7" fill="url(#o)" stroke="#eba634" stroke-width="0.8"/>
<text x="798.1" y="170.6" font-size="3.6" font-weight="bold" text-anchor="middle" fill="#857322" letter-spacing="0.4">...</text>
<rect x="695.07" y="180.07" width="19.86" height="14.86" rx="0.7" fill="url(#r)" stroke="#cf1f23" stroke-width="0.8"/>
<text x="705.0" y="187.8" font-size="5.0" font-weight="bold" text-anchor="middle" fill="#9e1216" letter-spacing="0.6">...</text>
<rect x="695.07" y="197.57" width="19.86" height="14.06" rx="0.7" fill="url(#r)" stroke="#cf1f23" stroke-width="0.8"/>
<text x="705.0" y="204.8" font-size="5.0" font-weight="bold" text-anchor="middle" fill="#9e1216" letter-spacing="0.6">...</text>
<rect x="695.07" y="214.07" width="19.86" height="13.86" rx="0.7" fill="url(#r)" stroke="#cf1f23" stroke-width="0.8"/>
<text x="705.0" y="221.2" font-size="5.0" font-weight="bold" text-anchor="middle" fill="#9e1216" letter-spacing="0.6">...</text>
<rect x="695.07" y="230.27" width="19.86" height="13.36" rx="0.7" fill="url(#o)" stroke="#eba634" stroke-width="0.8"/>
<text x="705.0" y="237.2" font-size="5.0" font-weight="bold" text-anchor="middle" fill="#857322" letter-spacing="0.6">...</text>
<rect x="695.07" y="246.07" width="19.86" height="12.56" rx="0.7" fill="url(#r)" stroke="#cf1f23" stroke-width="0.8"/>
<text x="705.0" y="252.6" font-size="5.0" font-weight="bold" text-anchor="middle" fill="#9e1216" letter-spacing="0.6">...</text>
<rect x="717.07" y="180.07" width="14.86" height="11.36" rx="0.7" fill="url(#r)" stroke="#cf1f23" stroke-width="0.8"/>
<text x="724.5" y="185.9" font-size="3.8" font-weight="bold" text-anchor="middle" fill="#9e1216" letter-spacing="0.4">...</text>
<rect x="734.47" y="180.07" width="13.46" height="11.36" rx="0.7" fill="url(#o)" stroke="#eba634" stroke-width="0.8"/>
<text x="741.2" y="185.9" font-size="3.4" font-weight="bold" text-anchor="middle" fill="#857322" letter-spacing="0.4">...</text>
<rect x="750.07" y="180.07" width="12.86" height="11.36" rx="0.7" fill="url(#o)" stroke="#eba634" stroke-width="0.8"/>
<text x="756.5" y="185.9" font-size="3.2" font-weight="bold" text-anchor="middle" fill="#857322" letter-spacing="0.4">...</text>
<rect x="764.87" y="180.07" width="12.06" height="11.36" rx="0.7" fill="url(#g)" stroke="#00ae15" stroke-width="0.8"/>
<text x="770.9" y="185.9" font-size="3.1" font-weight="bold" text-anchor="middle" fill="#0a6d14" letter-spacing="0.4">...</text>
<rect x="779.07" y="180.07" width="11.86" height="11.36" rx="0.7" fill="url(#o)" stroke="#eba634" stroke-width="0.8"/>
<text x="785.0" y="185.9" font-size="3.0" font-weight="bold" text-anchor="middle" fill="#857322" letter-spacing="0.4">...</text>
<rect x="793.37" y="180.07" width="11.96" height="11.36" rx="0.7" fill="url(#r)" stroke="#cf1f23" stroke-width="0.8"/>
<text x="799.3" y="185.9" font-size="3.0" font-weight="bold" text-anchor="middle" fill="#9e1216" letter-spacing="0.4">...</text>
<rect x="717.07" y="193.87" width="14.86" height="11.76" rx="0.7" fill="url(#g)" stroke="#00ae15" stroke-width="0.8"/>
<text x="724.5" y="199.9" font-size="3.8" font-weight="bold" text-anchor="middle" fill="#0a6d14" letter-spacing="0.4">...</text>
<rect x="717.07" y="208.07" width="14.86" height="11.06" rx="0.7" fill="url(#g)" stroke="#00ae15" stroke-width="0.8"/>
<rect x="717.07" y="221.47" width="14.86" height="10.66" rx="0.7" fill="url(#o)" stroke="#eba634" stroke-width="0.8"/>
<text x="724.5" y="227.0" font-size="3.8" font-weight="bold" text-anchor="middle" fill="#857322" letter-spacing="0.4">...</text>
<rect x="717.07" y="234.47" width="14.86" height="10.66" rx="0.7" fill="url(#g)" stroke="#00ae15" stroke-width="0.8"/>
<rect x="717.07" y="247.47" width="14.86" height="11.16" rx="0.7" fill="url(#g)" stroke="#00ae15" stroke-width="0.8"/>
<rect x="734.47" y="193.87" width="10.66" height="11.76" rx="0.7" fill="url(#o)" stroke="#eba634" stroke-width="0.8"/>
<text x="739.8" y="199.9" font-size="3.0" font-weight="bold" text-anchor="middle" fill="#857322" letter-spacing="0.4">...</text>
<rect x="734.47" y="208.07" width="10.66" height="11.06" rx="0.7" fill="url(#g)" stroke="#00ae15" stroke-width="0.8"/>
<rect x="734.47" y="221.67" width="10.66" height="10.46" rx="0.7" fill="url(#g)" stroke="#00ae15" stroke-width="0.8"/>
<rect x="734.47" y="234.87" width="10.66" height="10.26" rx="0.7" fill="url(#g)" stroke="#00ae15" stroke-width="0.8"/>
<rect x="734.47" y="247.87" width="10.66" height="10.76" rx="0.7" fill="url(#g)" stroke="#00ae15" stroke-width="0.8"/>
<rect x="747.37" y="193.67" width="10.96" height="8.46" rx="0.7" fill="url(#r)" stroke="#cf1f23" stroke-width="0.8"/>
<rect x="760.47" y="193.67" width="11.06" height="8.46" rx="0.7" fill="url(#g)" stroke="#00ae15" stroke-width="0.8"/>
<rect x="773.67" y="193.67" width="9.26" height="8.46" rx="0.7" fill="url(#r)" stroke="#cf1f23" stroke-width="0.8"/>
<rect x="785.07" y="193.67" width="9.06" height="8.46" rx="0.7" fill="url(#g)" stroke="#00ae15" stroke-width="0.8"/>
<rect x="796.37" y="193.67" width="8.96" height="8.46" rx="0.7" fill="url(#o)" stroke="#eba634" stroke-width="0.8"/>
<rect x="747.37" y="204.27" width="8.96" height="6.86" rx="0.7" fill="url(#g)" stroke="#00ae15" stroke-width="0.8"/>
<rect x="758.47" y="204.27" width="8.06" height="6.86" rx="0.7" fill="url(#g)" stroke="#00ae15" stroke-width="0.8"/>
<rect x="768.87" y="204.27" width="7.66" height="6.86" rx="0.7" fill="url(#r)" stroke="#cf1f23" stroke-width="0.8"/>
<rect x="778.87" y="204.27" width="7.66" height="6.86" rx="0.7" fill="url(#r)" stroke="#cf1f23" stroke-width="0.8"/>
<rect x="788.67" y="204.27" width="7.66" height="6.86" rx="0.7" fill="url(#g)" stroke="#00ae15" stroke-width="0.8"/>
<rect x="798.47" y="204.27" width="6.86" height="6.86" rx="0.7" fill="url(#o)" stroke="#eba634" stroke-width="0.8"/>
<rect x="747.37" y="213.67" width="8.96" height="7.86" rx="0.7" fill="url(#g)" stroke="#00ae15" stroke-width="0.8"/>
<rect x="747.37" y="223.87" width="8.96" height="7.26" rx="0.7" fill="url(#g)" stroke="#00ae15" stroke-width="0.8"/>
<rect x="747.37" y="233.47" width="8.96" height="7.06" rx="0.7" fill="url(#o)" stroke="#eba634" stroke-width="0.8"/>
<rect x="747.37" y="242.87" width="8.96" height="6.86" rx="0.7" fill="url(#g)" stroke="#00ae15" stroke-width="0.8"/>
<rect x="747.37" y="252.07" width="8.96" height="6.56" rx="0.7" fill="url(#g)" stroke="#00ae15" stroke-width="0.8"/>
<rect x="758.47" y="213.27" width="6.86" height="5.86" rx="0.7" fill="url(#g)" stroke="#00ae15" stroke-width="0.8"/>
<rect x="767.57" y="213.27" width="6.36" height="5.86" rx="0.7" fill="url(#g)" stroke="#00ae15" stroke-width="0.8"/>
<rect x="776.27" y="213.27" width="6.06" height="5.86" rx="0.7" fill="url(#o)" stroke="#eba634" stroke-width="0.8"/>
<rect x="784.57" y="213.27" width="5.96" height="5.86" rx="0.7" fill="url(#g)" stroke="#00ae15" stroke-width="0.8"/>
<rect x="792.67" y="213.27" width="5.46" height="5.86" rx="0.7" fill="url(#g)" stroke="#00ae15" stroke-width="0.8"/>
<rect x="799.87" y="212.87" width="5.86" height="6.66" rx="0.6" fill="#f7b240"/>
<rect x="758.47" y="221.67" width="6.86" height="7.06" rx="0.7" fill="url(#o)" stroke="#eba634" stroke-width="0.8"/>
<rect x="758.47" y="230.87" width="6.86" height="6.26" rx="0.7" fill="url(#o)" stroke="#eba634" stroke-width="0.8"/>
<rect x="758.47" y="239.07" width="6.86" height="5.46" rx="0.7" fill="url(#g)" stroke="#00ae15" stroke-width="0.8"/>
<rect x="758.07" y="246.07" width="7.66" height="5.46" rx="0.6" fill="#e3262a"/>
<rect x="758.47" y="253.27" width="6.86" height="5.36" rx="0.7" fill="url(#o)" stroke="#eba634" stroke-width="0.8"/>
<rect x="767.17" y="220.87" width="7.16" height="4.86" rx="0.6" fill="#00c419"/>
<rect x="775.87" y="220.87" width="6.86" height="4.86" rx="0.6" fill="#00c419"/>
<rect x="784.17" y="220.87" width="6.76" height="4.86" rx="0.6" fill="#00c419"/>
<rect x="792.27" y="220.87" width="5.46" height="4.86" rx="0.6" fill="#00c419"/>
<rect x="799.47" y="220.87" width="6.26" height="4.86" rx="0.6" fill="#00c419"/>
<rect x="767.17" y="227.07" width="5.36" height="4.46" rx="0.6" fill="#00c419"/>
<rect x="767.17" y="233.07" width="5.36" height="4.46" rx="0.6" fill="#00c419"/>
<rect x="767.17" y="239.07" width="5.36" height="4.46" rx="0.6" fill="#f7b240"/>
<rect x="767.17" y="244.67" width="5.36" height="4.26" rx="0.6" fill="#f7b240"/>
<rect x="767.17" y="249.67" width="5.36" height="3.86" rx="0.6" fill="#e3262a"/>
<rect x="767.17" y="254.67" width="5.36" height="4.36" rx="0.6" fill="#00c419"/>
<rect x="774.07" y="227.07" width="4.86" height="4.46" rx="0.6" fill="#e3262a"/>
<rect x="780.27" y="227.07" width="4.26" height="4.46" rx="0.6" fill="#e3262a"/>
<rect x="785.67" y="227.07" width="4.06" height="4.46" rx="0.6" fill="#00c419"/>
<rect x="791.07" y="227.07" width="3.86" height="4.46" rx="0.6" fill="#00c419"/>
<rect x="796.07" y="227.07" width="3.86" height="4.46" rx="0.6" fill="#00c419"/>
<rect x="801.47" y="227.07" width="4.06" height="4.46" rx="0.6" fill="#f7b240"/>
<rect x="774.07" y="232.47" width="4.46" height="4.26" rx="0.6" fill="#a917c3"/>
<rect x="774.07" y="237.67" width="4.46" height="3.46" rx="0.6" fill="#00c419"/>
<rect x="774.07" y="242.27" width="4.46" height="3.26" rx="0.6" fill="#00c419"/>
<rect x="774.07" y="246.67" width="4.46" height="3.06" rx="0.6" fill="#e3262a"/>
<rect x="774.07" y="250.67" width="4.46" height="3.46" rx="0.6" fill="#00c419"/>
<rect x="774.07" y="255.07" width="4.46" height="3.26" rx="0.6" fill="#a917c3"/>
<rect x="779.87" y="232.47" width="3.66" height="3.66" rx="0.6" fill="#f7b240"/>
<rect x="784.47" y="232.47" width="3.66" height="3.66" rx="0.6" fill="#a917c3"/>
<rect x="789.27" y="232.47" width="3.26" height="3.66" rx="0.6" fill="#00c419"/>
<rect x="793.67" y="232.47" width="3.26" height="3.66" rx="0.6" fill="#00c419"/>
<rect x="798.07" y="232.47" width="3.26" height="3.66" rx="0.6" fill="#e3262a"/>
<rect x="802.47" y="232.47" width="3.06" height="3.66" rx="0.6" fill="#00c419"/>
<rect x="779.87" y="237.27" width="3.06" height="3.06" rx="0.6" fill="#00c419"/>
<rect x="779.87" y="241.27" width="3.06" height="3.06" rx="0.6" fill="#f7b240"/>
<rect x="779.87" y="245.27" width="3.06" height="2.86" rx="0.6" fill="#f7b240"/>
<rect x="779.87" y="249.07" width="3.06" height="2.86" rx="0.6" fill="#00c419"/>
<rect x="779.87" y="252.87" width="3.06" height="2.66" rx="0.6" fill="#00c419"/>
<rect x="779.87" y="256.27" width="3.06" height="2.26" rx="0.6" fill="#e3262a"/>
<rect x="784.47" y="236.87" width="2.66" height="2.66" rx="0.6" fill="#00c419"/>
<rect x="789.07" y="236.87" width="2.66" height="2.66" rx="0.6" fill="#00c419"/>
<rect x="793.67" y="236.87" width="2.66" height="2.66" rx="0.6" fill="#00c419"/>
<rect x="798.07" y="236.87" width="2.66" height="2.66" rx="0.6" fill="#a917c3"/>
<rect x="802.47" y="236.87" width="2.66" height="2.66" rx="0.6" fill="#00c419"/>
<rect x="784.27" y="240.47" width="2.46" height="2.46" rx="0.6" fill="#00c419"/>
<rect x="784.27" y="243.87" width="2.26" height="2.26" rx="0.6" fill="#00c419"/>
<rect x="4.07" y="244.87" width="80.46" height="94.46" rx="0.7" fill="url(#r)" stroke="#cf1f23" stroke-width="0.8"/>
<text x="44.3" y="287.5" font-size="17.8" font-weight="bold" text-anchor="middle" fill="#9e1216">VND</text>
<text x="44.3" y="306.5" font-size="17.8" font-weight="bold" text-anchor="middle" fill="#9e1216">-0.26%</text>
<rect x="4.07" y="341.97" width="80.46" height="92.96" rx="0.7" fill="url(#r)" stroke="#cf1f23" stroke-width="0.8"/>
<text x="44.3" y="383.6" font-size="20" font-weight="bold" text-anchor="middle" fill="#9e1216">SHB</text>
<text x="44.3" y="404.3" font-size="20" font-weight="bold" text-anchor="middle" fill="#9e1216">-1.6%</text>
<rect x="86.77" y="244.87" width="105.16" height="70.26" rx="0.7" fill="url(#g)" stroke="#00ae15" stroke-width="0.8"/>
<text x="139.4" y="276.3" font-size="15.2" font-weight="bold" text-anchor="middle" fill="#0a6d14">STB</text>
<text x="139.4" y="292.1" font-size="15.2" font-weight="bold" text-anchor="middle" fill="#0a6d14">+0.18%</text>
<rect x="86.77" y="317.77" width="105.16" height="59.66" rx="0.7" fill="url(#r)" stroke="#cf1f23" stroke-width="0.8"/>
<text x="139.4" y="344.6" font-size="12.3" text-anchor="middle" fill="#9e1216" stroke="#9e1216" stroke-width="0.43">SSI</text>
<text x="139.4" y="357.4" font-size="12.3" text-anchor="middle" fill="#9e1216" stroke="#9e1216" stroke-width="0.43">-0.2%</text>
<rect x="86.77" y="379.97" width="105.16" height="54.96" rx="0.7" fill="url(#g)" stroke="#00ae15" stroke-width="0.8"/>
<text x="139.4" y="404.5" font-size="12" text-anchor="middle" fill="#0a6d14" stroke="#0a6d14" stroke-width="0.42">VPB</text>
<text x="139.4" y="417.0" font-size="12" text-anchor="middle" fill="#0a6d14" stroke="#0a6d14" stroke-width="0.42">+0.25%</text>
<rect x="194.37" y="244.87" width="65.56" height="62.16" rx="0.7" fill="url(#g)" stroke="#00ae15" stroke-width="0.8"/>
<text x="227.1" y="272.9" font-size="12.6" text-anchor="middle" fill="#0a6d14" stroke="#0a6d14" stroke-width="0.44">EIB</text>
<text x="227.1" y="286.0" font-size="12.6" text-anchor="middle" fill="#0a6d14" stroke="#0a6d14" stroke-width="0.44">+2.39%</text>
<rect x="194.37" y="309.67" width="65.56" height="61.96" rx="0.7" fill="url(#r)" stroke="#cf1f23" stroke-width="0.8"/>
<text x="227.1" y="337.6" font-size="12.5" text-anchor="middle" fill="#9e1216" stroke="#9e1216" stroke-width="0.44">TCB</text>
<text x="227.1" y="350.6" font-size="12.5" text-anchor="middle" fill="#9e1216" stroke="#9e1216" stroke-width="0.44">-0.31%</text>
<rect x="194.37" y="374.27" width="65.56" height="60.66" rx="0.7" fill="url(#r)" stroke="#cf1f23" stroke-width="0.8"/>
<text x="227.1" y="401.5" font-size="12.5" text-anchor="middle" fill="#9e1216" stroke="#9e1216" stroke-width="0.44">MBB</text>
<text x="227.1" y="414.5" font-size="12.5" text-anchor="middle" fill="#9e1216" stroke="#9e1216" stroke-width="0.44">-0.49%</text>
<rect x="262.07" y="244.87" width="66.86" height="49.56" rx="0.7" fill="url(#g)" stroke="#00ae15" stroke-width="0.8"/>
<text x="295.5" y="267.1" font-size="10.5" font-weight="bold" text-anchor="middle" fill="#0a6d14">TPB</text>
<text x="295.5" y="278.0" font-size="10.5" font-weight="bold" text-anchor="middle" fill="#0a6d14">+1.74%</text>
<rect x="262.07" y="297.07" width="66.86" height="46.06" rx="0.7" fill="url(#g)" stroke="#00ae15" stroke-width="0.8"/>
<text x="295.5" y="317.7" font-size="9.8" text-anchor="middle" fill="#0a6d14" stroke="#0a6d14" stroke-width="0.49">CTG</text>
<text x="295.5" y="327.9" font-size="9.8" text-anchor="middle" fill="#0a6d14" stroke="#0a6d14" stroke-width="0.49">+0.7%</text>
<rect x="262.07" y="345.77" width="66.86" height="44.36" rx="0.7" fill="url(#o)" stroke="#eba634" stroke-width="0.8"/>
<text x="295.5" y="365.6" font-size="9.5" text-anchor="middle" fill="#857322" stroke="#857322" stroke-width="0.48">SHS</text>
<text x="295.5" y="375.5" font-size="9.5" text-anchor="middle" fill="#857322" stroke="#857322" stroke-width="0.48">+0%</text>
<rect x="262.07" y="392.77" width="66.86" height="42.16" rx="0.7" fill="url(#g)" stroke="#00ae15" stroke-width="0.8"/>
<text x="295.5" y="411.7" font-size="8.7" text-anchor="middle" fill="#0a6d14" stroke="#0a6d14" stroke-width="0.65">ACB</text>
<text x="295.5" y="420.8" font-size="8.7" text-anchor="middle" fill="#0a6d14" stroke="#0a6d14" stroke-width="0.65">+0.23%</text>
<rect x="330.97" y="244.87" width="66.46" height="35.66" rx="0.7" fill="url(#r)" stroke="#cf1f23" stroke-width="0.8"/>
<text x="364.2" y="260.9" font-size="7.2" text-anchor="middle" fill="#9e1216" stroke="#9e1216" stroke-width="0.54">HCM</text>
<text x="364.2" y="268.4" font-size="7.2" text-anchor="middle" fill="#9e1216" stroke="#9e1216" stroke-width="0.54">-0.64%</text>
<rect x="399.57" y="244.87" width="64.66" height="35.66" rx="0.7" fill="url(#o)" stroke="#eba634" stroke-width="0.8"/>
<text x="431.9" y="261.0" font-size="7.1" text-anchor="middle" fill="#857322" stroke="#857322" stroke-width="0.53">VIB</text>
<text x="431.9" y="268.3" font-size="7.1" text-anchor="middle" fill="#857322" stroke="#857322" stroke-width="0.53">+0%</text>
<rect x="330.97" y="283.07" width="50.76" height="44.26" rx="0.7" fill="url(#g)" stroke="#00ae15" stroke-width="0.8"/>
<text x="356.4" y="302.8" font-size="9.7" text-anchor="middle" fill="#0a6d14" stroke="#0a6d14" stroke-width="0.48">VIX</text>
<text x="356.4" y="312.9" font-size="9.7" text-anchor="middle" fill="#0a6d14" stroke="#0a6d14" stroke-width="0.48">+3.35%</text>
<rect x="383.77" y="283.07" width="40.66" height="44.26" rx="0.7" fill="url(#g)" stroke="#00ae15" stroke-width="0.8"/>
<text x="404.1" y="303.2" font-size="8" text-anchor="middle" fill="#0a6d14" stroke="#0a6d14" stroke-width="0.60">VCI</text>
<text x="404.1" y="311.6" font-size="8" text-anchor="middle" fill="#0a6d14" stroke="#0a6d14" stroke-width="0.60">+0.14%</text>
<rect x="426.47" y="283.07" width="37.76" height="44.26" rx="0.7" fill="url(#g)" stroke="#00ae15" stroke-width="0.8"/>
<text x="445.4" y="303.4" font-size="7.2" text-anchor="middle" fill="#0a6d14" stroke="#0a6d14" stroke-width="0.54">MSB</text>
<text x="445.4" y="310.9" font-size="7.2" text-anchor="middle" fill="#0a6d14" stroke="#0a6d14" stroke-width="0.54">+1.56%</text>
<rect x="330.97" y="329.77" width="39.66" height="40.76" rx="0.7" fill="url(#r)" stroke="#cf1f23" stroke-width="0.8"/>
<text x="350.8" y="348.2" font-size="8" text-anchor="middle" fill="#9e1216" stroke="#9e1216" stroke-width="0.60">LPB</text>
<text x="350.8" y="356.5" font-size="8" text-anchor="middle" fill="#9e1216" stroke="#9e1216" stroke-width="0.60">-2.28%</text>
<rect x="330.97" y="373.07" width="39.66" height="23.96" rx="0.7" fill="url(#r)" stroke="#cf1f23" stroke-width="0.8"/>
<text x="350.8" y="385.4" font-size="8.0" font-weight="bold" text-anchor="middle" fill="#9e1216" letter-spacing="1.0">...</text>
<rect x="330.97" y="399.57" width="39.66" height="17.76" rx="0.7" fill="url(#r)" stroke="#cf1f23" stroke-width="0.8"/>
<text x="350.8" y="408.8" font-size="8.0" font-weight="bold" text-anchor="middle" fill="#9e1216" letter-spacing="1.0">...</text>
<rect x="330.97" y="420.07" width="39.66" height="14.86" rx="0.7" fill="url(#r)" stroke="#cf1f23" stroke-width="0.8"/>
<text x="350.8" y="427.8" font-size="6.8" font-weight="bold" text-anchor="middle" fill="#9e1216" letter-spacing="0.8">...</text>
<rect x="372.97" y="329.77" width="30.16" height="18.36" rx="0.7" fill="url(#r)" stroke="#cf1f23" stroke-width="0.8"/>
<text x="388.0" y="339.3" font-size="7.6" font-weight="bold" text-anchor="middle" fill="#9e1216" letter-spacing="0.9">...</text>
<rect x="405.27" y="329.77" width="28.06" height="18.36" rx="0.7" fill="url(#r)" stroke="#cf1f23" stroke-width="0.8"/>
<text x="419.3" y="339.3" font-size="7.0" font-weight="bold" text-anchor="middle" fill="#9e1216" letter-spacing="0.8">...</text>
<rect x="435.57" y="329.77" width="28.66" height="18.36" rx="0.7" fill="url(#r)" stroke="#cf1f23" stroke-width="0.8"/>
<text x="449.9" y="339.3" font-size="7.2" font-weight="bold" text-anchor="middle" fill="#9e1216" letter-spacing="0.9">...</text>
<rect x="372.97" y="350.47" width="20.16" height="22.06" rx="0.7" fill="url(#g)" stroke="#00ae15" stroke-width="0.8"/>
<text x="383.0" y="361.8" font-size="5.1" font-weight="bold" text-anchor="middle" fill="#0a6d14" letter-spacing="0.6">...</text>
<rect x="372.97" y="374.87" width="20.16" height="19.66" rx="0.7" fill="url(#r)" stroke="#cf1f23" stroke-width="0.8"/>
<text x="383.0" y="385.0" font-size="5.1" font-weight="bold" text-anchor="middle" fill="#9e1216" letter-spacing="0.6">...</text>
<rect x="372.97" y="396.97" width="20.16" height="18.16" rx="0.7" fill="url(#g)" stroke="#00ae15" stroke-width="0.8"/>
<text x="383.0" y="406.3" font-size="5.1" font-weight="bold" text-anchor="middle" fill="#0a6d14" letter-spacing="0.6">...</text>
<rect x="372.97" y="417.87" width="20.16" height="17.06" rx="0.7" fill="url(#p)" stroke="#9a13b3" stroke-width="0.8"/>
<text x="383.0" y="426.7" font-size="5.1" font-weight="bold" text-anchor="middle" fill="#f2d3f7" letter-spacing="0.6">...</text>
<rect x="395.37" y="350.47" width="21.36" height="14.26" rx="0.7" fill="url(#g)" stroke="#00ae15" stroke-width="0.8"/>
<text x="406.1" y="357.9" font-size="5.4" font-weight="bold" text-anchor="middle" fill="#0a6d14" letter-spacing="0.6">...</text>
<rect x="419.27" y="350.47" width="21.46" height="14.26" rx="0.7" fill="url(#r)" stroke="#cf1f23" stroke-width="0.8"/>
<text x="430.0" y="357.9" font-size="5.4" font-weight="bold" text-anchor="middle" fill="#9e1216" letter-spacing="0.6">...</text>
<rect x="443.17" y="350.47" width="21.06" height="14.26" rx="0.7" fill="url(#r)" stroke="#cf1f23" stroke-width="0.8"/>
<text x="453.7" y="357.9" font-size="5.3" font-weight="bold" text-anchor="middle" fill="#9e1216" letter-spacing="0.6">...</text>
<rect x="395.37" y="367.37" width="16.16" height="16.46" rx="0.7" fill="url(#r)" stroke="#cf1f23" stroke-width="0.8"/>
<text x="403.5" y="375.8" font-size="4.1" font-weight="bold" text-anchor="middle" fill="#9e1216" letter-spacing="0.5">...</text>
<rect x="395.37" y="386.27" width="16.16" height="14.86" rx="0.7" fill="url(#o)" stroke="#eba634" stroke-width="0.8"/>
<text x="403.5" y="393.9" font-size="4.1" font-weight="bold" text-anchor="middle" fill="#857322" letter-spacing="0.5">...</text>
<rect x="395.37" y="403.67" width="16.16" height="14.86" rx="0.7" fill="url(#g)" stroke="#00ae15" stroke-width="0.8"/>
<text x="403.5" y="411.3" font-size="4.1" font-weight="bold" text-anchor="middle" fill="#0a6d14" letter-spacing="0.5">...</text>
<rect x="395.37" y="420.87" width="16.16" height="14.06" rx="0.7" fill="url(#g)" stroke="#00ae15" stroke-width="0.8"/>
<text x="403.5" y="428.1" font-size="4.1" font-weight="bold" text-anchor="middle" fill="#0a6d14" letter-spacing="0.5">...</text>
<rect x="413.87" y="367.37" width="16.46" height="13.16" rx="0.7" fill="url(#g)" stroke="#00ae15" stroke-width="0.8"/>
<text x="422.1" y="374.2" font-size="4.1" font-weight="bold" text-anchor="middle" fill="#0a6d14" letter-spacing="0.5">...</text>
<rect x="432.57" y="367.37" width="15.36" height="13.16" rx="0.7" fill="url(#g)" stroke="#00ae15" stroke-width="0.8"/>
<text x="440.2" y="374.1" font-size="3.9" font-weight="bold" text-anchor="middle" fill="#0a6d14" letter-spacing="0.5">...</text>
<rect x="450.47" y="367.37" width="13.76" height="13.16" rx="0.7" fill="url(#g)" stroke="#00ae15" stroke-width="0.8"/>
<text x="457.4" y="374.1" font-size="3.5" font-weight="bold" text-anchor="middle" fill="#0a6d14" letter-spacing="0.4">...</text>
<rect x="413.87" y="383.07" width="17.66" height="9.46" rx="0.7" fill="url(#o)" stroke="#eba634" stroke-width="0.8"/>
<text x="422.7" y="388.0" font-size="4.3" font-weight="bold" text-anchor="middle" fill="#857322" letter-spacing="0.5">...</text>
<rect x="434.07" y="383.07" width="13.86" height="9.46" rx="0.7" fill="url(#r)" stroke="#cf1f23" stroke-width="0.8"/>
<text x="441.0" y="388.0" font-size="3.5" font-weight="bold" text-anchor="middle" fill="#9e1216" letter-spacing="0.4">...</text>
<rect x="450.47" y="383.07" width="13.76" height="9.46" rx="0.7" fill="url(#g)" stroke="#00ae15" stroke-width="0.8"/>
<text x="457.4" y="388.0" font-size="3.5" font-weight="bold" text-anchor="middle" fill="#0a6d14" letter-spacing="0.4">...</text>
<rect x="413.87" y="395.07" width="12.86" height="8.66" rx="0.7" fill="url(#g)" stroke="#00ae15" stroke-width="0.8"/>
<text x="420.3" y="399.6" font-size="3.2" font-weight="bold" text-anchor="middle" fill="#0a6d14" letter-spacing="0.4">...</text>
<rect x="413.87" y="406.27" width="12.86" height="8.46" rx="0.7" fill="url(#g)" stroke="#00ae15" stroke-width="0.8"/>
<text x="420.3" y="410.7" font-size="3.2" font-weight="bold" text-anchor="middle" fill="#0a6d14" letter-spacing="0.4">...</text>
<rect x="413.87" y="417.27" width="12.86" height="7.26" rx="0.7" fill="url(#r)" stroke="#cf1f23" stroke-width="0.8"/>
<text x="420.3" y="421.1" font-size="3.2" font-weight="bold" text-anchor="middle" fill="#9e1216" letter-spacing="0.4">...</text>
<rect x="413.87" y="427.07" width="12.86" height="7.86" rx="0.7" fill="url(#g)" stroke="#00ae15" stroke-width="0.8"/>
<text x="420.3" y="431.2" font-size="3.2" font-weight="bold" text-anchor="middle" fill="#0a6d14" letter-spacing="0.4">...</text>
<rect x="429.47" y="395.07" width="10.46" height="7.86" rx="0.7" fill="url(#o)" stroke="#eba634" stroke-width="0.8"/>
<text x="434.7" y="399.1" font-size="3.0" font-weight="bold" text-anchor="middle" fill="#857322" letter-spacing="0.4">...</text>
<rect x="442.57" y="395.07" width="9.76" height="7.86" rx="0.7" fill="url(#r)" stroke="#cf1f23" stroke-width="0.8"/>
<rect x="454.87" y="395.07" width="9.36" height="7.86" rx="0.7" fill="url(#g)" stroke="#00ae15" stroke-width="0.8"/>
<rect x="429.47" y="405.47" width="7.26" height="8.76" rx="0.7" fill="url(#r)" stroke="#cf1f23" stroke-width="0.8"/>
<rect x="429.47" y="416.87" width="7.26" height="7.66" rx="0.7" fill="url(#p)" stroke="#9a13b3" stroke-width="0.8"/>
<rect x="429.47" y="427.07" width="7.26" height="7.86" rx="0.7" fill="url(#r)" stroke="#cf1f23" stroke-width="0.8"/>
<rect x="439.47" y="405.47" width="7.26" height="6.66" rx="0.7" fill="url(#g)" stroke="#00ae15" stroke-width="0.8"/>
<rect x="449.27" y="405.47" width="6.06" height="6.66" rx="0.7" fill="url(#r)" stroke="#cf1f23" stroke-width="0.8"/>
<rect x="457.67" y="405.47" width="6.56" height="6.66" rx="0.7" fill="url(#p)" stroke="#9a13b3" stroke-width="0.8"/>
<rect x="439.47" y="414.67" width="7.26" height="5.46" rx="0.7" fill="url(#g)" stroke="#00ae15" stroke-width="0.8"/>
<rect x="439.07" y="421.67" width="8.06" height="4.46" rx="0.6" fill="#00c419"/>
<rect x="439.07" y="427.07" width="8.06" height="3.86" rx="0.6" fill="#00c419"/>
<rect x="439.07" y="432.07" width="8.06" height="3.26" rx="0.6" fill="#a917c3"/>
<rect x="448.87" y="414.07" width="6.86" height="3.86" rx="0.6" fill="#00c419"/>
<rect x="457.27" y="414.07" width="7.36" height="3.86" rx="0.6" fill="#00c419"/>
<rect x="448.87" y="419.27" width="5.06" height="3.66" rx="0.6" fill="#f7b240"/>
<rect x="455.07" y="419.27" width="4.46" height="3.66" rx="0.6" fill="#00c419"/>
<rect x="460.67" y="419.27" width="3.96" height="3.66" rx="0.6" fill="#f7b240"/>
<rect x="448.87" y="424.07" width="4.46" height="3.26" rx="0.6" fill="#00c419"/>
<rect x="448.87" y="428.27" width="4.46" height="2.86" rx="0.6" fill="#00c419"/>
<rect x="448.87" y="431.87" width="4.46" height="3.06" rx="0.6" fill="#00c419"/>
<rect x="455.07" y="424.07" width="3.46" height="2.86" rx="0.6" fill="#00c419"/>
<rect x="459.67" y="424.07" width="2.86" height="2.46" rx="0.6" fill="#00c419"/>
<rect x="455.07" y="428.07" width="3.26" height="2.46" rx="0.6" fill="#00c419"/>
<rect x="581.07" y="284.47" width="28.86" height="30.86" rx="0.7" fill="url(#r)" stroke="#cf1f23" stroke-width="0.8"/>
<text x="595.5" y="300.2" font-size="7.0" font-weight="bold" text-anchor="middle" fill="#9e1216" letter-spacing="0.8">...</text>
<rect x="581.07" y="317.57" width="28.86" height="29.76" rx="0.7" fill="url(#g)" stroke="#00ae15" stroke-width="0.8"/>
<text x="595.5" y="332.8" font-size="7.0" font-weight="bold" text-anchor="middle" fill="#0a6d14" letter-spacing="0.8">...</text>
<rect x="611.77" y="284.47" width="28.16" height="18.06" rx="0.7" fill="url(#p)" stroke="#9a13b3" stroke-width="0.8"/>
<text x="625.9" y="293.8" font-size="6.0" font-weight="bold" text-anchor="middle" fill="#f2d3f7" letter-spacing="0.7">...</text>
<rect x="641.77" y="284.47" width="25.76" height="18.06" rx="0.7" fill="url(#o)" stroke="#eba634" stroke-width="0.8"/>
<text x="654.7" y="293.8" font-size="6.0" font-weight="bold" text-anchor="middle" fill="#857322" letter-spacing="0.7">...</text>
<rect x="611.77" y="304.57" width="17.16" height="12.36" rx="0.7" fill="url(#g)" stroke="#00ae15" stroke-width="0.8"/>
<text x="620.4" y="311.0" font-size="4.3" font-weight="bold" text-anchor="middle" fill="#0a6d14" letter-spacing="0.5">...</text>
<rect x="631.07" y="304.57" width="11.86" height="9.76" rx="0.7" fill="url(#g)" stroke="#00ae15" stroke-width="0.8"/>
<rect x="644.77" y="304.57" width="11.16" height="9.76" rx="0.7" fill="url(#o)" stroke="#eba634" stroke-width="0.8"/>
<text x="650.4" y="309.6" font-size="3.0" font-weight="bold" text-anchor="middle" fill="#857322" letter-spacing="0.4">...</text>
<rect x="658.07" y="304.57" width="9.46" height="9.76" rx="0.7" fill="url(#g)" stroke="#00ae15" stroke-width="0.8"/>
<rect x="611.77" y="319.07" width="17.16" height="7.86" rx="0.7" fill="url(#g)" stroke="#00ae15" stroke-width="0.8"/>
<rect x="611.77" y="329.07" width="17.16" height="8.26" rx="0.7" fill="url(#g)" stroke="#00ae15" stroke-width="0.8"/>
<rect x="611.77" y="339.47" width="17.16" height="7.86" rx="0.7" fill="url(#g)" stroke="#00ae15" stroke-width="0.8"/>
<rect x="631.07" y="316.47" width="9.86" height="9.46" rx="0.7" fill="url(#p)" stroke="#9a13b3" stroke-width="0.8"/>
<rect x="631.07" y="328.07" width="9.86" height="9.26" rx="0.7" fill="url(#g)" stroke="#00ae15" stroke-width="0.8"/>
<rect x="631.07" y="339.47" width="9.86" height="7.86" rx="0.7" fill="url(#p)" stroke="#9a13b3" stroke-width="0.8"/>
<rect x="642.67" y="316.27" width="12.86" height="5.86" rx="0.7" fill="url(#g)" stroke="#00ae15" stroke-width="0.8"/>
<rect x="657.67" y="316.27" width="9.86" height="5.86" rx="0.7" fill="url(#g)" stroke="#00ae15" stroke-width="0.8"/>
<rect x="642.67" y="324.07" width="7.26" height="7.86" rx="0.7" fill="url(#g)" stroke="#00ae15" stroke-width="0.8"/>
<rect x="642.67" y="334.07" width="7.26" height="5.46" rx="0.7" fill="url(#o)" stroke="#eba634" stroke-width="0.8"/>
<rect x="642.67" y="341.67" width="7.26" height="5.66" rx="0.7" fill="url(#g)" stroke="#00ae15" stroke-width="0.8"/>
<rect x="651.27" y="323.67" width="9.06" height="4.66" rx="0.6" fill="#f7b240"/>
<rect x="661.67" y="323.67" width="6.26" height="4.66" rx="0.6" fill="#00c419"/>
<rect x="651.27" y="329.27" width="5.46" height="5.06" rx="0.6" fill="#a917c3"/>
<rect x="651.27" y="335.67" width="5.46" height="3.26" rx="0.6" fill="#00c419"/>
<rect x="651.27" y="340.07" width="5.46" height="3.06" rx="0.6" fill="#e3262a"/>
<rect x="651.27" y="344.47" width="5.46" height="2.86" rx="0.6" fill="#a917c3"/>
<rect x="658.07" y="329.27" width="4.66" height="5.06" rx="0.6" fill="#00c419"/>
<rect x="663.87" y="329.27" width="4.06" height="5.06" rx="0.6" fill="#f7b240"/>
<rect x="658.07" y="335.67" width="4.26" height="3.26" rx="0.6" fill="#e3262a"/>
<rect x="663.67" y="335.67" width="4.26" height="3.26" rx="0.6" fill="#00c419"/>
<rect x="581.07" y="373.07" width="51.86" height="42.86" rx="0.7" fill="url(#o)" stroke="#eba634" stroke-width="0.8"/>
<text x="607.0" y="392.4" font-size="8.6" text-anchor="middle" fill="#857322" stroke="#857322" stroke-width="0.64">PVS</text>
<text x="607.0" y="401.3" font-size="8.6" text-anchor="middle" fill="#857322" stroke="#857322" stroke-width="0.64">+0%</text>
<rect x="581.07" y="418.07" width="51.86" height="16.86" rx="0.7" fill="url(#g)" stroke="#00ae15" stroke-width="0.8"/>
<text x="607.0" y="426.9" font-size="7.0" font-weight="bold" text-anchor="middle" fill="#0a6d14" letter-spacing="0.8">...</text>
<rect x="634.77" y="373.07" width="32.76" height="21.86" rx="0.7" fill="url(#g)" stroke="#00ae15" stroke-width="0.8"/>
<text x="651.2" y="384.4" font-size="7.0" font-weight="bold" text-anchor="middle" fill="#0a6d14" letter-spacing="0.8">...</text>
<rect x="634.77" y="396.87" width="32.76" height="8.66" rx="0.7" fill="url(#g)" stroke="#00ae15" stroke-width="0.8"/>
<text x="651.2" y="401.4" font-size="4.0" font-weight="bold" text-anchor="middle" fill="#0a6d14" letter-spacing="0.5">...</text>
<rect x="634.77" y="407.47" width="12.16" height="8.46" rx="0.7" fill="url(#g)" stroke="#00ae15" stroke-width="0.8"/>
<rect x="649.07" y="407.47" width="9.46" height="8.46" rx="0.7" fill="url(#p)" stroke="#9a13b3" stroke-width="0.8"/>
<rect x="660.47" y="407.47" width="7.06" height="8.46" rx="0.7" fill="url(#g)" stroke="#00ae15" stroke-width="0.8"/>
<rect x="634.77" y="418.07" width="12.16" height="7.86" rx="0.7" fill="url(#r)" stroke="#cf1f23" stroke-width="0.8"/>
<rect x="634.77" y="428.07" width="12.16" height="6.86" rx="0.7" fill="url(#g)" stroke="#00ae15" stroke-width="0.8"/>
<rect x="649.07" y="418.07" width="8.46" height="5.46" rx="0.7" fill="url(#r)" stroke="#cf1f23" stroke-width="0.8"/>
<rect x="659.07" y="417.67" width="8.86" height="4.66" rx="0.6" fill="#e3262a"/>
<rect x="648.67" y="425.67" width="9.26" height="4.26" rx="0.6" fill="#f7b240"/>
<rect x="648.67" y="431.07" width="9.26" height="4.26" rx="0.6" fill="#e3262a"/>
<rect x="659.27" y="423.67" width="4.06" height="4.06" rx="0.6" fill="#f7b240"/>
<rect x="664.27" y="423.67" width="3.66" height="4.06" rx="0.6" fill="#f7b240"/>
<rect x="659.67" y="428.67" width="3.06" height="3.66" rx="0.6" fill="#a917c3"/>
<rect x="659.67" y="433.07" width="3.06" height="2.26" rx="0.6" fill="#f7b240"/>
<rect x="677.07" y="284.57" width="71.76" height="24.16" rx="0.7" fill="url(#o)" stroke="#eba634" stroke-width="0.8"/>
<text x="713.0" y="297.0" font-size="7.0" font-weight="bold" text-anchor="middle" fill="#857322" letter-spacing="0.8">...</text>
<rect x="750.57" y="284.57" width="24.36" height="24.16" rx="0.7" fill="url(#g)" stroke="#00ae15" stroke-width="0.8"/>
<text x="762.8" y="297.0" font-size="7.0" font-weight="bold" text-anchor="middle" fill="#0a6d14" letter-spacing="0.8">...</text>
<rect x="777.07" y="284.57" width="22.56" height="12.56" rx="0.7" fill="url(#g)" stroke="#00ae15" stroke-width="0.8"/>
<text x="788.4" y="291.1" font-size="4.5" font-weight="bold" text-anchor="middle" fill="#0a6d14" letter-spacing="0.5">...</text>
<rect x="777.07" y="299.37" width="22.56" height="9.36" rx="0.7" fill="url(#g)" stroke="#00ae15" stroke-width="0.8"/>
<text x="788.4" y="304.2" font-size="4.0" font-weight="bold" text-anchor="middle" fill="#0a6d14" letter-spacing="0.5">...</text>
<rect x="800.97" y="284.17" width="4.76" height="19.36" rx="0.6" fill="#e3262a"/>
<rect x="801.37" y="304.27" width="2.26" height="3.86" rx="0.6" fill="#a917c3"/>
<rect x="677.27" y="334.67" width="50.36" height="20.26" rx="0.7" fill="url(#g)" stroke="#00ae15" stroke-width="0.8"/>
<text x="702.5" y="345.2" font-size="7.0" font-weight="bold" text-anchor="middle" fill="#0a6d14" letter-spacing="0.8">...</text>
<rect x="677.27" y="357.17" width="25.26" height="29.56" rx="0.7" fill="url(#g)" stroke="#00ae15" stroke-width="0.8"/>
<text x="689.9" y="372.3" font-size="7.0" font-weight="bold" text-anchor="middle" fill="#0a6d14" letter-spacing="0.8">...</text>
<rect x="704.77" y="357.17" width="22.86" height="17.16" rx="0.7" fill="url(#g)" stroke="#00ae15" stroke-width="0.8"/>
<text x="716.2" y="366.0" font-size="5.0" font-weight="bold" text-anchor="middle" fill="#0a6d14" letter-spacing="0.6">...</text>
<rect x="704.77" y="376.77" width="15.96" height="9.96" rx="0.7" fill="url(#g)" stroke="#00ae15" stroke-width="0.8"/>
<text x="712.8" y="381.9" font-size="3.5" font-weight="bold" text-anchor="middle" fill="#0a6d14" letter-spacing="0.4">...</text>
<rect x="722.47" y="376.37" width="5.56" height="4.96" rx="0.6" fill="#00c419"/>
<rect x="722.47" y="382.67" width="5.56" height="3.06" rx="0.6" fill="#f7b240"/>
<text x="522.5" y="314.6" font-size="22" text-anchor="middle" fill="#111" stroke="#111" stroke-width="0.8">Tiện ích</text>
<text x="522.5" y="392.3" font-size="18.5" text-anchor="middle" fill="#111" stroke="#111" stroke-width="0.66">Vận tải và</text>
<text x="522.5" y="411.1" font-size="18.5" text-anchor="middle" fill="#111" stroke="#111" stroke-width="0.66">kho bãi</text>
<text x="702" y="326.2" font-size="8.5" font-weight="bold" text-anchor="middle" fill="#111" letter-spacing="1">...</text>
<text x="753.8" y="320" font-size="5.5" font-weight="bold" text-anchor="middle" fill="#444" letter-spacing="0.6">...</text>
<text x="786" y="320" font-size="3.8" font-weight="bold" text-anchor="middle" fill="#999">...</text>
<text x="803.4" y="320.4" font-size="3" font-weight="bold" text-anchor="middle" fill="#aaa">...</text>
<text x="702.3" y="412.5" font-size="8.1" text-anchor="middle" fill="#111" stroke="#111" stroke-width="0.3">Công nghệ</text>
<text x="702.3" y="421.4" font-size="8.1" text-anchor="middle" fill="#111" stroke="#111" stroke-width="0.3">và thông tin</text>
<g transform="translate(752.4,361.9) scale(0.1348)">
<path d="M14,2 L68,2 L86,42 L80,97 L58,140 L3,144 L3,14 Q3,2 14,2Z" fill="#c9c9c9"/>
<path d="M76,2 L163,2 L153,37 L103,50 L88,32Z" fill="#e01500"/>
<path d="M176,2 L223,2 L233,42 L208,62 L170,40Z" fill="#e01500"/>
<path d="M230,2 L273,2 L273,32 L238,32Z" fill="#c9c9c9"/>
<path d="M243,42 L273,40 L273,87 L248,84 L230,67Z" fill="#e01500"/>
<path d="M103,60 L158,47 L198,72 L173,107 L108,97Z" fill="#e01500"/>
<path d="M206,77 L226,77 L243,92 L233,167 L198,162 L180,112Z" fill="#e01500"/>
<path d="M253,95 L273,97 L273,182 L243,170Z" fill="#e01500"/>
<path d="M100,107 L168,117 L193,167 L140,207 L93,174 L73,144Z" fill="#e01500"/>
<path d="M3,152 L58,150 L86,180 L63,212 L3,212Z" fill="#e01500"/>
<path d="M3,222 L58,222 L73,272 L3,272Z" fill="#e01500"/>
<path d="M93,187 L133,212 L123,272 L83,272 L68,222Z" fill="#e01500"/>
<path d="M198,174 L243,182 L273,202 L273,258 Q273,272 259,272 L143,272 L143,217 L168,187Z" fill="#c9c9c9"/>
</g>
<text x="771.4" y="406" font-size="8.3" text-anchor="middle" fill="#d01208" stroke="#d01208" stroke-width="0.3">FoamTree</text>
</svg>
<div class="lg" style="left:4px;background:#8b0f9f"></div><div class="lt" style="left:32.5px">Tăng trần: 65</div>
<div class="lg" style="left:124.3px;background:#00921a"></div><div class="lt" style="left:153px">Tăng giá: 454</div>
<div class="lg" style="left:247.3px;background:#ffa412"></div><div class="lt" style="left:275.5px">Đứng giá: 816</div>
<div class="lg" style="left:372.3px;background:#d60000"></div><div class="lt" style="left:401px">Giảm giá: 255</div>
<div class="lg" style="left:496px;background:#0d7fe6"></div><div class="lt" style="left:524.5px">Giảm sàn: 20</div>
<div class="pop"></div>
<div class="cls"></div>
<svg style="position:absolute;left:298px;top:442px" width="13" height="12" viewBox="0 0 13 12"><path d="M1.7,1.4 L11.4,10.4 M11.4,1.4 L1.7,10.4" stroke="#333" stroke-width="1.3" fill="none"/></svg>
<div class="inp"><span>Mã CK</span></div>
<svg style="position:absolute;left:780px;top:443px" width="32" height="32" viewBox="0 0 475 475">
<defs><radialGradient id="ic" cx="50%" cy="50%" r="55%"><stop offset="0" stop-color="#3b7fcb"/><stop offset="1" stop-color="#2748a0"/></radialGradient></defs>
<ellipse cx="243" cy="230" rx="131" ry="135" fill="url(#ic)"/>
<path d="M185,222 L275,297 L236,290 L232,356 L192,350 L186,300 L135,292Z" fill="#fff"/>
<path d="M303,118 L336,124 L336,164 L362,158 L326,206 L284,170 L310,168Z" fill="#fff"/>
<path d="M236,182 L322,236 L380,192 L326,266Z" fill="#e8242c"/>
</svg>
</body></html>
